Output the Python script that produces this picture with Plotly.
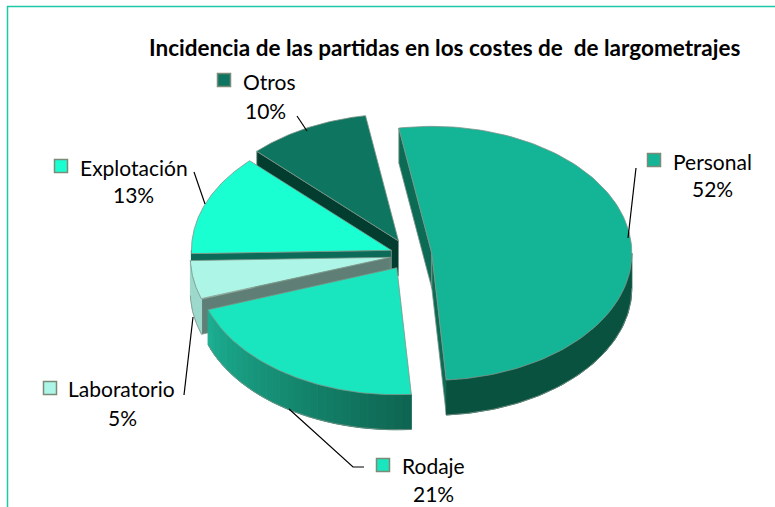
import numpy as np
import plotly.graph_objects as go

# data, in drawing order of the pie (clockwise from the top)
categories = ['Personal', 'Rodaje', 'Laboratorio', 'Explotación', 'Otros']
values = [52, 21, 5, 13, 10]
chart_title = 'Incidencia de las partidas en los costes de  de largometrajes'

# look of each slice
top_colors = ['#14B496', '#19E6BE', '#ADF5E6', '#19FFD2', '#0E7560']
face_colors = ['#0B6B55', '#14A085', '#5F7F76', '#0C6B58', '#023D2F']
rim_left = ['#0A5240', '#1CAF92', '#9CD8CC', '#0C6B58', '#023D2F']
rim_right = ['#0A5240', '#0E6450', '#9CD8CC', '#0C6B58', '#023D2F']
pulls = [0.11, 0.12, 0.10, 0.10, 0.125]
paint_order = [4, 3, 2, 1, 0]

# pie geometry, in the pixel space of the axes
cx, cy = 410, 255
rx, ry = 200, 127
depth = 35
start_angle = -9.5
edge = '#7E9488'
frame = '#1CC8A8'
font = 'Lato'

# key square x, key y, text x, text y, percent x, percent y
label_pos = {
    'Personal': (654, 160, 671, 161, 712, 188),
    'Rodaje': (383, 465, 400, 465, 433, 493),
    'Laboratorio': (50, 388, 66, 388, 122, 417),
    'Explotación': (61, 166, 78, 167, 133, 194),
    'Otros': (224, 80, 241, 81, 265, 110),
}
leaders = [
    [(636, 168), (628, 238)],
    [(297, 116), (307, 131)],
    [(194, 172), (205, 204)],
    [(184, 395), (193, 317)],
    [(289, 409), (353, 467), (364, 467)],
]


def rim(ax, ay, t):
    r = np.radians(t)
    return ax + rx * np.sin(r), ay - ry * np.cos(r)


def mix(c1, c2, f):
    a = [int(c1[i:i + 2], 16) for i in (1, 3, 5)]
    b = [int(c2[i:i + 2], 16) for i in (1, 3, 5)]
    return 'rgb(%d,%d,%d)' % tuple(round(p + (q - p) * f) for p, q in zip(a, b))


def poly(fig, xs, ys, color, line=None, width=1):
    fig.add_trace(go.Scatter(
        x=list(xs) + [xs[0]], y=list(ys) + [ys[0]],
        mode='lines', fill='toself', fillcolor=color,
        line=dict(color=line or color, width=width),
        hoverinfo='skip', showlegend=False,
    ))


def radial_face(fig, ax, ay, t, color):
    x, y = rim(ax, ay, t)
    poly(fig, [ax, x, x, ax], [ay, y, y + depth, ay + depth], color, edge, 0.8)


fig = go.Figure()

shares = np.array(values) / sum(values) * 360
starts = start_angle + np.concatenate([[0], np.cumsum(shares)[:-1]])

for i in paint_order:
    t0, t1 = starts[i], starts[i] + shares[i]
    mid = np.radians((t0 + t1) / 2)
    ax = cx + pulls[i] * rx * np.sin(mid)
    ay = cy - pulls[i] * ry * np.cos(mid)

    # only the faces turned towards the viewer are drawn
    if np.sin(np.radians(t0)) < 0:
        radial_face(fig, ax, ay, t0, face_colors[i])
    if np.sin(np.radians(t1)) > 0:
        radial_face(fig, ax, ay, t1, face_colors[i])

    a0, a1 = max(t0, 90), min(t1, 270)
    if a1 > a0:
        # a flat rim is one piece, a shaded one is cut into thin strips
        n = 1 if rim_left[i] == rim_right[i] else 30
        steps = np.linspace(a0, a1, n + 1)
        for k in range(n):
            ts = np.linspace(steps[k], steps[k + 1], 80 // n + 3)
            xs, ys = rim(ax, ay, ts)
            col = mix(rim_right[i], rim_left[i], (k + 0.5) / n)
            poly(fig, list(xs) + list(xs[::-1]),
                 list(ys) + list(ys[::-1] + depth), col)
        ts = np.linspace(a0, a1, 80)
        xs, ys = rim(ax, ay, ts)
        fig.add_trace(go.Scatter(
            x=xs, y=ys + depth, mode='lines', line=dict(color=edge, width=0.8),
            hoverinfo='skip', showlegend=False,
        ))

    ts = np.linspace(t0, t1, 120)
    xs, ys = rim(ax, ay, ts)
    poly(fig, [ax] + list(xs), [ay] + list(ys), top_colors[i], edge, 0.8)

annotations = [dict(
    x=444, y=47, text='<b>%s</b>' % chart_title, showarrow=False,
    xanchor='center', yanchor='middle', font=dict(family=font, size=22.5, color='#000000'),
)]
for name, val, col in zip(categories, values, top_colors):
    kx, ky, tx, ty, px, py = label_pos[name]
    fig.add_trace(go.Scatter(
        x=[kx], y=[ky], mode='markers',
        marker=dict(symbol='square', size=13, color=col, line=dict(color='#7E8A78', width=1.5)),
        hoverinfo='skip', showlegend=False,
    ))
    annotations.append(dict(x=tx, y=ty, text=name, showarrow=False, xanchor='left',
                            yanchor='middle', font=dict(family=font, size=21, color='#000000')))
    annotations.append(dict(x=px, y=py, text='%d%%' % val, showarrow=False, xanchor='center',
                            yanchor='middle', font=dict(family=font, size=21, color='#000000')))

for pts in leaders:
    fig.add_trace(go.Scatter(
        x=[p[0] for p in pts], y=[p[1] for p in pts], mode='lines',
        line=dict(color='#000000', width=1.2), hoverinfo='skip', showlegend=False,
    ))

fig.update_layout(
    width=775, height=507,
    margin=dict(l=0, r=0, t=0, b=0),
    paper_bgcolor='white', plot_bgcolor='white',
    xaxis=dict(range=[0, 775], visible=False, fixedrange=True),
    yaxis=dict(range=[507, 0], visible=False, fixedrange=True),
    annotations=annotations,
    shapes=[
        dict(type='line', x0=7, x1=775, y0=6.5, y1=6.5, line=dict(color=frame, width=1.5)),
        dict(type='line', x0=7.5, x1=7.5, y0=6, y1=507, line=dict(color=frame, width=1.5)),
    ],
)

# the page's default body margin would push the figure 8px in
fig.write_html('out.html', config={'displayModeBar': False},
               post_script="document.body.style.margin='0';document.body.style.overflow='hidden';")
